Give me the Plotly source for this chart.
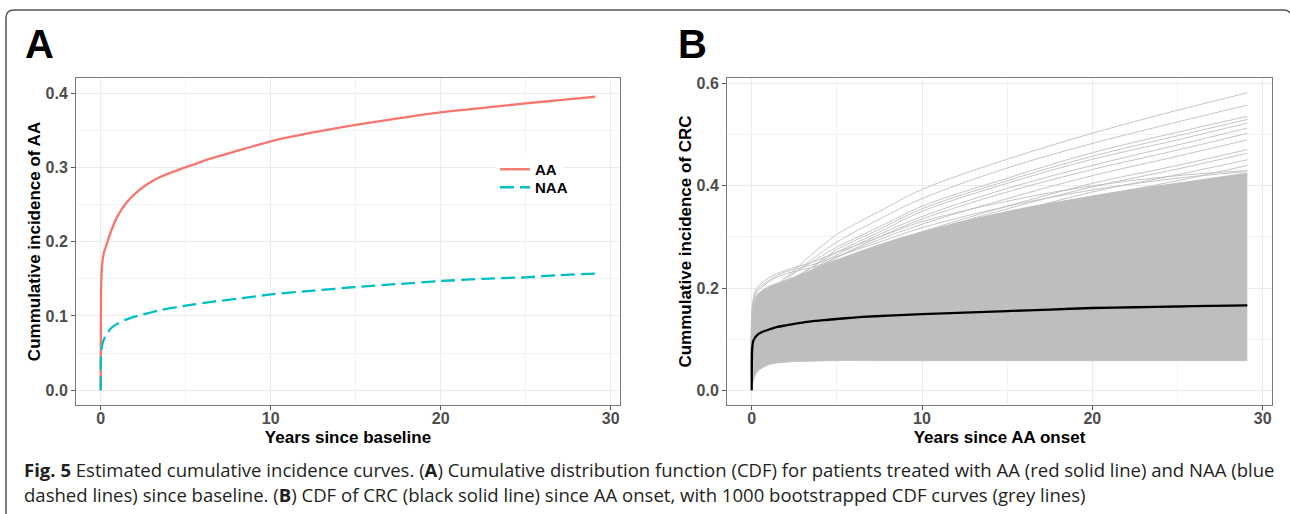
import plotly.graph_objects as go

W, H = 1290, 514


def px(x):
    return x / W


def py(y):
    return 1 - y / H


# ---------------- Data ----------------
# Panel A: cumulative incidence of AA since baseline
t_a = [0, 0.005, 0.02, 0.05, 0.1, 0.2, 0.35, 0.55, 0.94, 1.5, 2, 2.5, 3, 3.5,
       4.5, 5.5, 6.5, 8, 10, 12.5, 15, 17.5, 20, 22.5, 25, 27, 29.1]
aa = [0, 0.03, 0.12, 0.155, 0.172, 0.186, 0.196, 0.210, 0.232, 0.252, 0.264,
      0.2735, 0.281, 0.287, 0.296, 0.304, 0.312, 0.322, 0.335, 0.347, 0.357,
      0.366, 0.374, 0.380, 0.386, 0.3905, 0.395]
naa = [0, 0.02, 0.045, 0.055, 0.062, 0.069, 0.075, 0.082, 0.089, 0.095, 0.099,
       0.102, 0.105, 0.108, 0.112, 0.1155, 0.119, 0.123, 0.129, 0.134, 0.139,
       0.143, 0.147, 0.150, 0.152, 0.155, 0.157]

# Panel B: CDF of CRC since AA onset
t_b = t_a
crc = [0, 0.04, 0.075, 0.089, 0.097, 0.103, 0.109, 0.113, 0.118, 0.124, 0.127,
       0.130, 0.1325, 0.135, 0.138, 0.141, 0.1435, 0.146, 0.149, 0.152, 0.155,
       0.158, 0.161, 0.1625, 0.164, 0.165, 0.166]

# Bootstrapped CDF curves (grey): dense band envelope + distinct upper curves
t_g = [0, 0.05, 0.3, 1, 2, 3.5, 5, 7.5, 10, 15, 20, 25, 29.1]
boot_lower = [0, 0.012, 0.035, 0.050, 0.055, 0.057, 0.058, 0.058, 0.058,
              0.058, 0.058, 0.058, 0.058]
boot_upper = [0, 0.150, 0.185, 0.203, 0.215, 0.235, 0.255, 0.285, 0.310,
              0.350, 0.380, 0.405, 0.425]
boot_curves = [
    [0, 0.140, 0.170, 0.190, 0.220, 0.265, 0.305, 0.350, 0.393, 0.452, 0.503, 0.548, 0.582],
    [0, 0.130, 0.160, 0.185, 0.215, 0.255, 0.290, 0.335, 0.375, 0.435, 0.483, 0.525, 0.558],
    [0, 0.130, 0.165, 0.190, 0.220, 0.250, 0.280, 0.320, 0.360, 0.415, 0.465, 0.505, 0.536],
    [0, 0.120, 0.150, 0.175, 0.205, 0.240, 0.275, 0.315, 0.355, 0.410, 0.458, 0.498, 0.530],
    [0, 0.120, 0.155, 0.180, 0.210, 0.240, 0.270, 0.310, 0.350, 0.405, 0.452, 0.490, 0.523],
    [0, 0.110, 0.145, 0.170, 0.200, 0.235, 0.265, 0.305, 0.340, 0.395, 0.440, 0.480, 0.513],
    [0, 0.110, 0.150, 0.175, 0.200, 0.230, 0.260, 0.300, 0.335, 0.388, 0.432, 0.470, 0.503],
    [0, 0.120, 0.160, 0.185, 0.210, 0.235, 0.260, 0.295, 0.325, 0.375, 0.420, 0.458, 0.490],
    [0, 0.100, 0.140, 0.165, 0.190, 0.220, 0.245, 0.280, 0.310, 0.360, 0.405, 0.440, 0.471],
    [0, 0.110, 0.150, 0.170, 0.195, 0.220, 0.245, 0.278, 0.307, 0.355, 0.398, 0.433, 0.464],
    [0, 0.100, 0.140, 0.165, 0.190, 0.215, 0.240, 0.270, 0.300, 0.345, 0.388, 0.422, 0.451],
    [0, 0.100, 0.140, 0.160, 0.185, 0.210, 0.235, 0.265, 0.292, 0.338, 0.378, 0.410, 0.440],
    [0, 0.170, 0.200, 0.220, 0.235, 0.250, 0.270, 0.300, 0.330, 0.370, 0.400, 0.420, 0.430],
    [0, 0.160, 0.195, 0.215, 0.232, 0.245, 0.262, 0.290, 0.318, 0.360, 0.392, 0.415, 0.428],
    [0, 0.150, 0.190, 0.212, 0.228, 0.240, 0.255, 0.280, 0.305, 0.345, 0.380, 0.405, 0.420],
]

# Ticks
x_ticks = [0, 10, 20, 30]
ya_ticks = [0.0, 0.1, 0.2, 0.3, 0.4]
yb_ticks = [0.0, 0.2, 0.4, 0.6]

# ---------------- Styling ----------------
RED = "#F8766D"
CYAN = "#00BFC4"
GREY = "#BEBEBE"
FONT = "Liberation Sans, Arial, sans-serif"

fig = go.Figure()

# Panel A
fig.add_trace(go.Scatter(x=t_a, y=aa, mode="lines", name="AA", legend="legend",
                         line=dict(color=RED, width=2.3, shape="spline", smoothing=0.6),
                         xaxis="x", yaxis="y"))
fig.add_trace(go.Scatter(x=t_a, y=naa, mode="lines", name="NAA", legend="legend2",
                         line=dict(color=CYAN, width=2.3, dash="14px,6px",
                                   shape="spline", smoothing=0.6),
                         xaxis="x", yaxis="y"))

# Panel B: bootstrap band
fig.add_trace(go.Scatter(x=t_g, y=boot_lower, mode="lines", showlegend=False,
                         line=dict(color=GREY, width=0.8, shape="spline"),
                         xaxis="x2", yaxis="y2", hoverinfo="skip"))
fig.add_trace(go.Scatter(x=t_g, y=boot_upper, mode="lines", showlegend=False,
                         fill="tonexty", fillcolor=GREY,
                         line=dict(color=GREY, width=0.8, shape="spline"),
                         xaxis="x2", yaxis="y2", hoverinfo="skip"))
for c in boot_curves:
    fig.add_trace(go.Scatter(x=t_g, y=c, mode="lines", showlegend=False,
                             line=dict(color=GREY, width=0.9, shape="spline"),
                             xaxis="x2", yaxis="y2", hoverinfo="skip"))
fig.add_trace(go.Scatter(x=t_b, y=crc, mode="lines", showlegend=False,
                         line=dict(color="black", width=2.3, shape="spline", smoothing=0.6),
                         xaxis="x2", yaxis="y2"))

tickfont = dict(family=FONT, size=16, color="#4D4D4D", weight="bold")
titlefont = dict(family=FONT, size=17, color="black", weight="bold")


def xaxis(domain, title):
    return dict(domain=domain, range=[-1.45, 30.55], tickvals=x_ticks,
                ticks="outside", ticklen=4, tickcolor="#555555", tickwidth=1,
                tickfont=tickfont, showline=True, mirror=True, automargin=False,
                ticklabelstandoff=-5,
                linecolor="#7A7A7A", linewidth=1, zeroline=False,
                showgrid=True, gridcolor="#EBEBEB", gridwidth=1.1,
                minor=dict(dtick=5, tick0=0, showgrid=True,
                           gridcolor="#F2F2F2", gridwidth=0.6),
                title=dict(text=title, font=titlefont, standoff=4))


def yaxis(domain, rng, tv, dt_minor, title, anchor):
    return dict(domain=domain, range=rng, tickvals=tv,
                ticktext=[f"{v:.1f}" for v in tv], anchor=anchor,
                ticks="outside", ticklen=4, tickcolor="#555555", tickwidth=1,
                tickfont=tickfont, showline=True, mirror=True, automargin=False,
                linecolor="#7A7A7A", linewidth=1, zeroline=False,
                showgrid=True, gridcolor="#EBEBEB", gridwidth=1.1,
                minor=dict(dtick=dt_minor, tick0=0, showgrid=True,
                           gridcolor="#F2F2F2", gridwidth=0.6),
                title=dict(text=title, font=titlefont, standoff=0))


legfont = dict(family=FONT, size=15, color="black", weight="bold")
fig.update_layout(
    width=W, height=H,
    margin=dict(l=0, r=0, t=0, b=0, autoexpand=False),
    paper_bgcolor="white", plot_bgcolor="white",
    xaxis=dict(**xaxis([px(76), px(620)], "Years since baseline"), anchor="y"),
    yaxis=yaxis([py(405), py(78)], [-0.0198, 0.4202], ya_ticks, 0.05,
                "Cummulative incidence of AA", "x"),
    xaxis2=dict(**xaxis([px(727), px(1272)], "Years since AA onset"), anchor="y2"),
    yaxis2=yaxis([py(405), py(78)], [-0.0288, 0.6111], yb_ticks, 0.1,
                 "Cummulative incidence of CRC", "x2"),
    showlegend=True,
    legend=dict(x=px(495), y=py(153), xanchor="left", yanchor="top",
                bgcolor="white", borderwidth=0, font=legfont, itemwidth=30),
    legend2=dict(x=px(495), y=py(171), xanchor="left", yanchor="top",
                 bgcolor="rgba(0,0,0,0)", borderwidth=0, font=legfont, itemwidth=30),
)

# Panel letters
for letter, x in (("A", 23), ("B", 676)):
    fig.add_annotation(text=f"<b>{letter}</b>", xref="paper", yref="paper",
                       x=px(x), y=py(44), xanchor="left", yanchor="middle",
                       showarrow=False,
                       font=dict(family=FONT, size=40, color="black"))

# Caption
CAP_FONT = dict(family="Open Sans, Noto Sans, sans-serif", size=18.55, color="#231F20")
cap1 = ("<b>Fig. 5</b> Estimated cumulative incidence curves. (<b>A</b>) Cumulative "
        "distribution function (CDF) for patients treated with AA (red solid line) "
        "and NAA (blue")
cap2 = ("dashed lines) since baseline. (<b>B</b>) CDF of CRC (black solid line) since "
        "AA onset, with 1000 bootstrapped CDF curves (grey lines)")
fig.add_annotation(text=cap1, xref="paper", yref="paper", x=px(22), y=py(469),
                   xanchor="left", yanchor="middle", showarrow=False, font=CAP_FONT)
fig.add_annotation(text=cap2, xref="paper", yref="paper", x=px(22), y=py(494),
                   xanchor="left", yanchor="middle", showarrow=False, font=CAP_FONT)

# Rounded frame (top, left and right edges)
fx0, fx1, fy0, r = 6, 1291.5, 10, 8
path = (f"M {px(fx0)},{py(520)} L {px(fx0)},{py(fy0 + r)} "
        f"Q {px(fx0)},{py(fy0)} {px(fx0 + r)},{py(fy0)} "
        f"L {px(fx1 - r)},{py(fy0)} "
        f"Q {px(fx1)},{py(fy0)} {px(fx1)},{py(fy0 + r)} "
        f"L {px(fx1)},{py(520)}")
fig.add_shape(type="path", path=path, xref="paper", yref="paper",
              line=dict(color="#555555", width=1.5))

fig.write_html("out.html", config={"displayModeBar": False},
               post_script="document.body.style.margin='0';"
                           "document.body.style.overflow='hidden';")
